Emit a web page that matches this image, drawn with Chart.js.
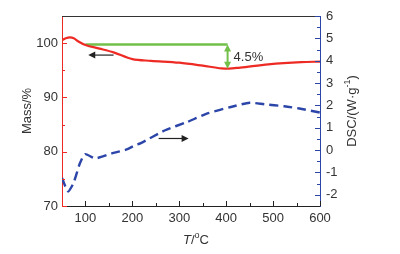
<!DOCTYPE html>
<html><head><meta charset="utf-8">
<script src="https://cdn.jsdelivr.net/npm/chart.js@4/dist/chart.umd.min.js"></script>
<style>html,body{margin:0;padding:0;background:#fff}#wrap{width:400px;height:254px}</style>
</head><body><div id="wrap"><canvas id="c"></canvas></div>
<script>
// ---- data ----
const massTemperature = [50, 58, 67, 75, 85, 100, 130, 160, 200, 240, 300, 350, 390, 405, 430, 490, 560, 600];
const massValues      = [100.55, 100.9, 101.05, 100.9, 100.3, 99.65, 99.0, 98.3, 97.05, 96.75, 96.4, 95.85, 95.35, 95.3, 95.5, 96.1, 96.5, 96.6];
const dscTemperature  = [50, 63, 75, 88, 99, 121, 156, 188, 206, 217, 270, 317, 360, 410, 450, 481, 524, 556, 600];
const dscValues       = [-1.25, -1.85, -1.45, -0.6, -0.18, -0.37, -0.15, 0.03, 0.22, 0.3, 0.89, 1.26, 1.64, 1.93, 2.12, 2.05, 1.96, 1.86, 1.68];
const stepTemperature = [100, 403];
const stepMass        = [99.75, 99.75];
const massLossBottom  = 95.3;
const massLossLabel   = '4.5%';
const xTickValues     = [100, 200, 300, 400, 500, 600];
const massTickValues  = [70, 80, 90, 100];
const dscTickValues   = [-2, -1, 0, 1, 2, 3, 4, 5, 6];
const massArrow = [160, 106, 97.8];   // from T, to T, mass value
const dscArrow  = [256, 320, 0.52];   // from T, to T, dsc value

const RED = '#ee2a24', BLUE = '#2b45a8', GREEN = '#72c04a';
const FONT = '"Liberation Sans", Arial, sans-serif';

function toXY(xs, ys){ return xs.map((x,i)=>({x:x, y:ys[i]})); }

function arrowHead(ctx, x, y, ang, size){
  ctx.beginPath();
  ctx.moveTo(x, y);
  ctx.lineTo(x - size*Math.cos(ang) + size*0.5*Math.sin(ang), y - size*Math.sin(ang) - size*0.5*Math.cos(ang));
  ctx.lineTo(x - size*Math.cos(ang) - size*0.5*Math.sin(ang), y - size*Math.sin(ang) + size*0.5*Math.cos(ang));
  ctx.closePath(); ctx.fill();
}
function drawRuns(ctx, runs, cx, cy, rot){
  ctx.save(); ctx.translate(cx, cy); ctx.rotate(rot);
  ctx.textBaseline = 'middle'; ctx.textAlign = 'left';
  let total = 0;
  runs.forEach(r => { ctx.font = r.font; r.w = ctx.measureText(r.text).width; total += r.w; });
  let x = -total/2;
  runs.forEach(r => { ctx.font = r.font; ctx.fillText(r.text, x, r.dy || 0); x += r.w; });
  ctx.restore();
}

const decor = {
  id: 'decor',
  afterDatasetsDraw(chart){
    const ctx = chart.ctx, a = chart.chartArea;
    const xs = chart.scales.x, ym = chart.scales.yMass, yd = chart.scales.yDsc;
    ctx.save();
    // top border
    ctx.strokeStyle = '#333'; ctx.lineWidth = 1;
    ctx.beginPath(); ctx.moveTo(a.left, a.top + 0.5); ctx.lineTo(a.right, a.top + 0.5); ctx.stroke();
    // inward ticks
    const tick = (x1,y1,x2,y2,c)=>{ ctx.strokeStyle=c; ctx.beginPath(); ctx.moveTo(x1,y1); ctx.lineTo(x2,y2); ctx.stroke(); };
    xTickValues.forEach(v => { const p = Math.round(xs.getPixelForValue(v))+0.5; tick(p, a.bottom, p, a.bottom-5, '#222');
      const m = Math.round(xs.getPixelForValue(v-50))+0.5; if (v-50 > xs.min) tick(m, a.bottom, m, a.bottom-3, '#222'); });
    massTickValues.forEach(v => { const p = Math.round(ym.getPixelForValue(v))+0.5; tick(a.left, p, a.left+5, p, RED);
      const m = Math.round(ym.getPixelForValue(v+5))+0.5; if (v+5 < ym.max) tick(a.left, m, a.left+3, m, RED); });
    dscTickValues.forEach(v => { const p = Math.round(yd.getPixelForValue(v))+0.5; tick(a.right, p, a.right-5, p, BLUE);
      const m = Math.round(yd.getPixelForValue(v-0.5))+0.5; if (v-0.5 > yd.min) tick(a.right, m, a.right-3, m, BLUE); });
    // green double arrow
    const gx = xs.getPixelForValue(stepTemperature[1]);
    const gy1 = ym.getPixelForValue(stepMass[1]), gy2 = ym.getPixelForValue(massLossBottom);
    ctx.strokeStyle = GREEN; ctx.fillStyle = GREEN; ctx.lineWidth = 2;
    ctx.beginPath(); ctx.moveTo(gx, gy1+5); ctx.lineTo(gx, gy2-5); ctx.stroke();
    arrowHead(ctx, gx, gy1, -Math.PI/2, 7);
    arrowHead(ctx, gx, gy2, Math.PI/2, 7);
    // label
    ctx.fillStyle = '#333'; ctx.font = '13px ' + FONT; ctx.textBaseline = 'middle'; ctx.textAlign = 'left';
    ctx.fillText(massLossLabel, gx + 6, (gy1 + gy2)/2 + 1);
    // black arrows
    ctx.strokeStyle = '#222'; ctx.fillStyle = '#222'; ctx.lineWidth = 1.2;
    let x1 = xs.getPixelForValue(massArrow[0]), x2 = xs.getPixelForValue(massArrow[1]), y = ym.getPixelForValue(massArrow[2]);
    ctx.beginPath(); ctx.moveTo(x1, y); ctx.lineTo(x2+5, y); ctx.stroke(); arrowHead(ctx, x2, y, Math.PI, 7);
    x1 = xs.getPixelForValue(dscArrow[0]); x2 = xs.getPixelForValue(dscArrow[1]); y = yd.getPixelForValue(dscArrow[2]);
    ctx.beginPath(); ctx.moveTo(x1, y); ctx.lineTo(x2-5, y); ctx.stroke(); arrowHead(ctx, x2, y, 0, 7);
    // axis titles
    ctx.fillStyle = '#333';
    const f = '13px ' + FONT, fs = '9px ' + FONT, fi = 'italic 13px ' + FONT;
    const cy = (a.top + a.bottom)/2;
    drawRuns(ctx, [{text:'Mass/%', font:f}], a.left - 35, cy, -Math.PI/2);
    drawRuns(ctx, [{text:'DSC/(W·g', font:f}, {text:'-1', font:fs, dy:-4}, {text:')', font:f}], a.right + 32, cy, -Math.PI/2);
    drawRuns(ctx, [{text:'T', font:fi}, {text:'/', font:f}, {text:'o', font:fs, dy:-4}, {text:'C', font:f}], (a.left+a.right)/2 + 5, a.bottom + 34, 0);
    ctx.restore();
  }
};

new Chart(document.getElementById('c'), {
  type: 'line',
  data: { datasets: [
    { data: toXY(massTemperature, massValues), yAxisID: 'yMass', borderColor: RED, borderWidth: 2.2, pointRadius: 0, tension: 0.4, cubicInterpolationMode: 'monotone' },
    { data: toXY(dscTemperature, dscValues), yAxisID: 'yDsc', borderColor: BLUE, borderWidth: 2.4, pointRadius: 0, tension: 0.2, borderDash: [9, 5] },
    { data: toXY(stepTemperature, stepMass), yAxisID: 'yMass', borderColor: GREEN, borderWidth: 2.4, pointRadius: 0 }
  ]},
  options: {
    responsive: true, maintainAspectRatio: false, animation: false, devicePixelRatio: 1,
    layout: { padding: { top: 16, left: 0, right: 0, bottom: 0 } },
    plugins: { legend: { display: false }, tooltip: { enabled: false } },
    scales: {
      x: { type: 'linear', position: 'bottom', min: 50, max: 600,
        afterBuildTicks: s => { s.ticks = xTickValues.map(v => ({ value: v })); },
        afterFit: s => { s.height = 48; },
        grid: { drawOnChartArea: false, drawTicks: false },
        border: { color: '#222', width: 1 },
        ticks: { color: '#333', font: { family: FONT, size: 13 }, padding: 5, maxRotation: 0 } },
      yMass: { type: 'linear', position: 'left', min: 70, max: 105,
        afterBuildTicks: s => { s.ticks = massTickValues.map(v => ({ value: v })); },
        afterFit: s => { s.width = 62; },
        grid: { drawOnChartArea: false, drawTicks: false },
        border: { color: RED, width: 1 },
        ticks: { color: '#333', font: { family: FONT, size: 13 }, padding: 4 } },
      yDsc: { type: 'linear', position: 'right', min: -2.5, max: 6,
        afterBuildTicks: s => { s.ticks = dscTickValues.map(v => ({ value: v })); },
        afterFit: s => { s.width = 80; },
        grid: { drawOnChartArea: false, drawTicks: false },
        border: { color: BLUE, width: 1 },
        ticks: { color: '#333', font: { family: FONT, size: 13 }, padding: 6 } }
    }
  },
  plugins: [decor]
});
</script>
</body></html>
